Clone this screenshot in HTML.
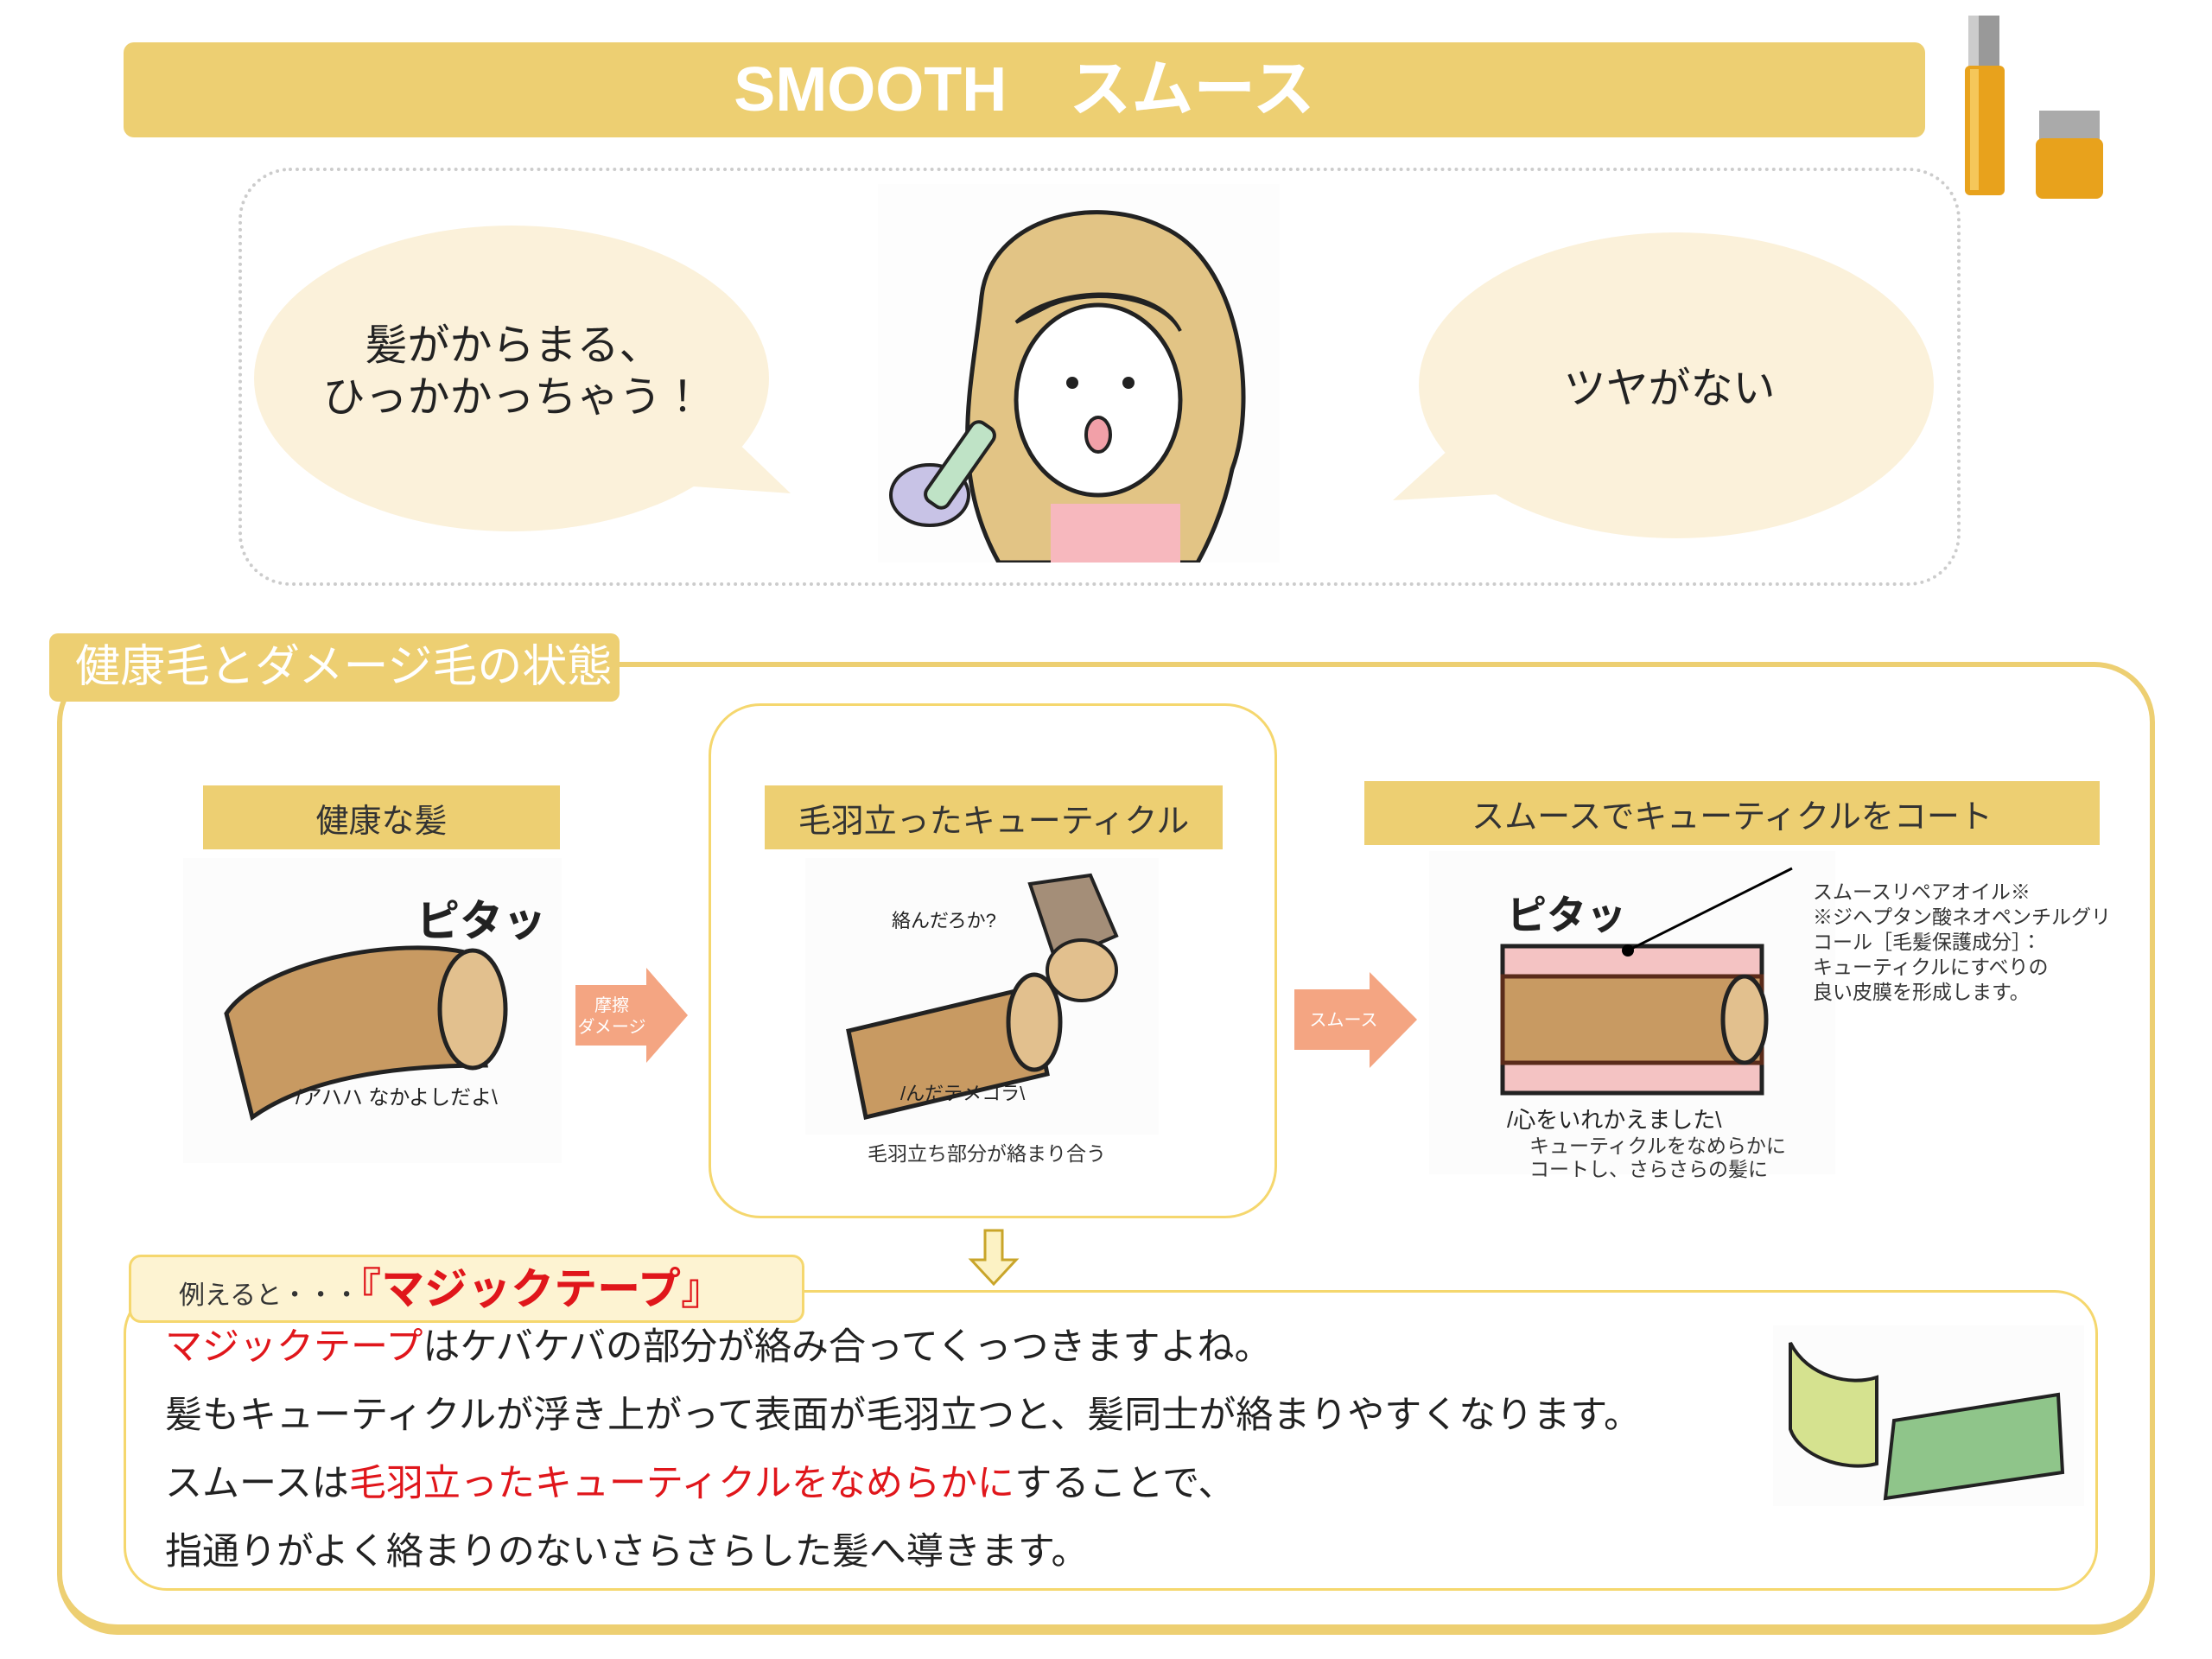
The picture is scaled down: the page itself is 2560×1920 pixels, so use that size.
<!DOCTYPE html>
<html><head><meta charset="utf-8"><style>
body{margin:0;width:2560px;height:1920px;background:#fff;position:relative;overflow:hidden;font-family:"Liberation Sans","Noto Sans CJK JP",sans-serif;color:#222}
.a{position:absolute}
.hd{position:absolute;background:#EDCF72;color:#333;font-size:38px;display:flex;align-items:center;justify-content:center}
</style></head><body>
<div class="a" style="left:143px;top:49px;width:2085px;height:110px;background:#EDCF72;border-radius:12px;color:#fff;font-weight:bold;font-size:72px;text-align:center;line-height:110px">SMOOTH　スムース</div>
<svg class="a" style="left:2260px;top:10px" width="230" height="225">
<rect x="18" y="8" width="36" height="60" fill="#999"/><rect x="18" y="8" width="12" height="60" fill="#ccc"/>
<rect x="14" y="66" width="46" height="150" rx="6" fill="#E8A21C"/><rect x="20" y="70" width="10" height="140" fill="#F5C75A"/>
<rect x="100" y="118" width="70" height="35" fill="#aaa"/><rect x="96" y="150" width="78" height="70" rx="8" fill="#E8A21C"/>
</svg>
<div class="a" style="left:276px;top:194px;width:1985px;height:476px;border:4px dotted #ccc;border-radius:60px"></div>
<svg class="a" style="left:0;top:0" width="2560" height="720">
<ellipse cx="592" cy="438" rx="298" ry="177" fill="#FBF1DA"/><polygon points="820,480 915,571 760,560" fill="#FBF1DA"/>
<ellipse cx="1940" cy="446" rx="298" ry="177" fill="#FBF1DA"/><polygon points="1710,490 1612,579 1770,570" fill="#FBF1DA"/>
</svg>
<div class="a" style="left:294px;top:370px;width:600px;text-align:center;font-size:49px;line-height:60px;color:#222">髪がからまる、<br>ひっかかっちゃう！</div>
<div class="a" style="left:1692px;top:410px;width:480px;text-align:center;font-size:49px;color:#222">ツヤがない</div>
<svg class="a" style="left:1016px;top:213px" width="465" height="438">
<rect width="465" height="438" fill="#fdfdfd"/>
<path d="M140,438 C80,330 110,230 120,130 C130,40 250,10 330,50 C420,90 440,250 410,330 C400,380 380,420 370,438Z" fill="#E2C485" stroke="#222" stroke-width="5"/>
<ellipse cx="255" cy="250" rx="95" ry="110" fill="#fff" stroke="#222" stroke-width="5"/>
<path d="M160,160 C200,120 320,110 350,170 C330,130 250,120 200,140Z" fill="#E2C485" stroke="#222" stroke-width="4"/>
<circle cx="225" cy="230" r="7" fill="#222"/><circle cx="290" cy="230" r="7" fill="#222"/>
<ellipse cx="255" cy="290" rx="14" ry="20" fill="#F2A0A8" stroke="#222" stroke-width="4"/>
<rect x="200" y="370" width="150" height="68" fill="#F7B8BE"/>
<ellipse cx="60" cy="360" rx="45" ry="35" fill="#C8C3E6" stroke="#222" stroke-width="4"/>
<rect x="80" y="270" width="30" height="110" rx="10" transform="rotate(35 95 325)" fill="#BFE3C6" stroke="#222" stroke-width="4"/>
</svg>
<div class="a" style="left:66px;top:766px;width:2416px;height:1108px;border:6px solid #EDCF72;border-bottom-width:12px;border-radius:70px"></div>
<div class="a" style="left:57px;top:733px;width:660px;height:79px;background:#EDCF72;border-radius:10px;color:#fff;font-size:52px;line-height:79px;padding-left:30px;box-sizing:border-box">健康毛とダメージ毛の状態</div>
<div class="a" style="left:820px;top:814px;width:658px;height:596px;border:3px solid #F5D76E;border-radius:60px;box-sizing:border-box"></div>
<div class="hd" style="left:235px;top:909px;width:413px;height:74px">健康な髪</div>
<div class="hd" style="left:885px;top:909px;width:530px;height:74px">毛羽立ったキューティクル</div>
<div class="hd" style="left:1579px;top:904px;width:851px;height:74px">スムースでキューティクルをコート</div>
<svg class="a" style="left:212px;top:993px" width="438" height="353">
<rect width="438" height="353" fill="#fcfcfc"/>
<path d="M50,180 C90,120 250,90 330,110 L350,240 C260,240 150,250 80,300 Z" fill="#C89A62" stroke="#222" stroke-width="5"/>
<ellipse cx="335" cy="175" rx="38" ry="68" fill="#E2C08E" stroke="#222" stroke-width="5"/>
<text x="270" y="90" font-size="50" font-weight="bold" fill="#222">ピタッ</text>
<text x="130" y="285" font-size="24" fill="#222">/アハハ なかよしだよ\</text>
</svg>
<svg class="a" style="left:932px;top:993px" width="409" height="320">
<rect width="409" height="320" fill="#fcfcfc"/>
<path d="M50,200 L260,150 L280,250 L70,300 Z" fill="#C89A62" stroke="#222" stroke-width="5"/>
<ellipse cx="265" cy="190" rx="30" ry="55" fill="#E2C08E" stroke="#222" stroke-width="5"/>
<path d="M260,30 L330,20 L360,90 L290,120 Z" fill="#A48E78" stroke="#222" stroke-width="4"/>
<ellipse cx="320" cy="130" rx="40" ry="35" fill="#E2C08E" stroke="#222" stroke-width="4"/>
<text x="100" y="80" font-size="22" fill="#222">絡んだろか?</text>
<text x="110" y="280" font-size="22" fill="#222">/んだテメコラ\</text>
</svg>
<div class="a" style="left:932px;top:1316px;width:420px;text-align:center;font-size:23px;color:#333">毛羽立ち部分が絡まり合う</div>
<svg class="a" style="left:1654px;top:985px" width="470" height="374">
<rect width="470" height="374" fill="#fcfcfc"/>
<rect x="85" y="110" width="300" height="170" fill="#F4C3C3" stroke="#222" stroke-width="5"/>
<rect x="85" y="145" width="300" height="100" fill="#C89A62" stroke="#5a2b1a" stroke-width="5"/>
<ellipse cx="365" cy="195" rx="25" ry="50" fill="#E2C08E" stroke="#222" stroke-width="5"/>
<text x="90" y="90" font-size="46" font-weight="bold" fill="#222">ピタッ</text>
<text x="90" y="320" font-size="26" fill="#222">/心をいれかえました\</text>
<line x1="230" y1="115" x2="420" y2="20" stroke="#000" stroke-width="3"/><circle cx="230" cy="115" r="7"/>
</svg>
<div class="a" style="left:2098px;top:1018px;font-size:23px;line-height:29px;color:#333">スムースリペアオイル※<br>※ジヘプタン酸ネオペンチルグリ<br>コール［毛髪保護成分］：<br>キューティクルにすべりの<br>良い皮膜を形成します。</div>
<div class="a" style="left:1770px;top:1313px;font-size:23px;line-height:27px;color:#333">キューティクルをなめらかに<br>コートし、さらさらの髪に</div>
<svg class="a" style="left:660px;top:1120px" width="1000" height="120">
<polygon points="6,20 88,20 88,0 136,55 88,110 88,90 6,90" fill="#F4A582"/>
<text x="48" y="50" font-size="20" fill="#fff" text-anchor="middle">摩擦</text><text x="48" y="75" font-size="20" fill="#fff" text-anchor="middle">ダメージ</text>
<polygon points="838,25 925,25 925,5 980,60 925,116 925,95 838,95" fill="#F4A582"/>
<text x="895" y="67" font-size="20" fill="#fff" text-anchor="middle">スムース</text>
</svg>
<svg class="a" style="left:1120px;top:1422px" width="60" height="66"><polygon points="20,2 40,2 40,36 56,36 30,64 4,36 20,36" fill="#FCF2C4" stroke="#C9A52A" stroke-width="3"/></svg>
<div class="a" style="left:143px;top:1493px;width:2285px;height:348px;border:3px solid #F5D76E;border-radius:50px;box-sizing:border-box"></div>
<div class="a" style="left:149px;top:1452px;width:782px;height:79px;background:#FDF3D2;border:3px solid #F5D76E;border-radius:14px;box-sizing:border-box;padding-left:55px;line-height:74px;white-space:nowrap"><span style="font-size:30px;color:#333">例えると・・・</span><span style="font-size:50px;color:#E0161B;font-weight:bold">『マジックテープ』</span></div>
<div class="a" style="left:191px;top:1520px;font-size:43px;line-height:79px;color:#222;white-space:nowrap">
<div><span style="color:#E0161B">マジックテープ</span>はケバケバの部分が絡み合ってくっつきますよね。</div>
<div>髪もキューティクルが浮き上がって表面が毛羽立つと、髪同士が絡まりやすくなります。</div>
<div>スムースは<span style="color:#E0161B">毛羽立ったキューティクルをなめらかに</span>することで、</div>
<div>指通りがよく絡まりのないさらさらした髪へ導きます。</div></div>
<svg class="a" style="left:2052px;top:1534px" width="360" height="209">
<rect width="360" height="209" fill="#fcfcfc"/>
<path d="M140,110 L330,80 L335,170 L130,200 Z" fill="#8FC58A" stroke="#222" stroke-width="4"/>
<path d="M20,20 C40,60 90,70 120,60 L120,160 C80,170 30,150 20,120 Z" fill="#D5E28F" stroke="#222" stroke-width="4"/>
</svg>
</body></html>
